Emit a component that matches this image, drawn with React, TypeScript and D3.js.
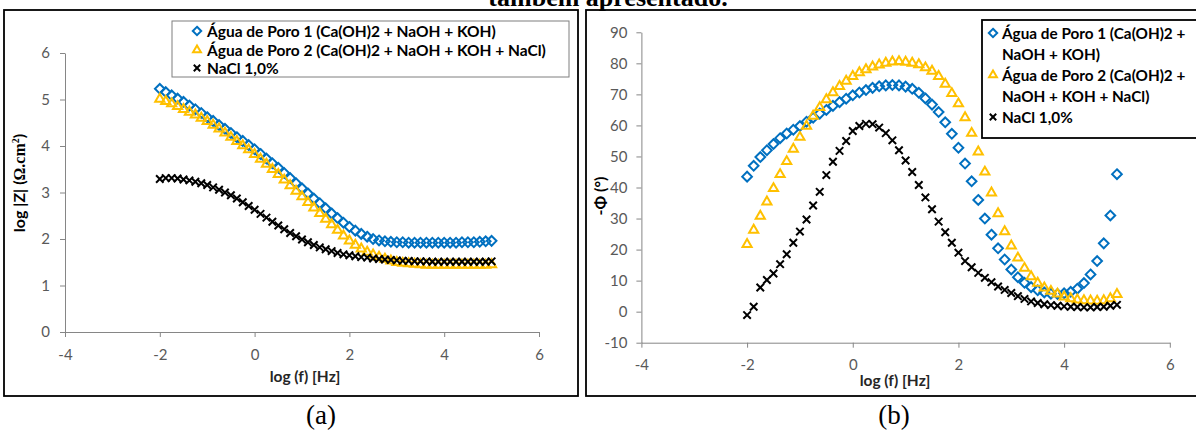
import React, { useEffect, useRef } from "react";
import * as d3 from "d3";

// log(f) of every measured point (same frequency sweep for all series)
const logF = [
  -2, -1.875, -1.75, -1.625, -1.5, -1.375, -1.25, -1.125,
  -1, -0.875, -0.75, -0.625, -0.5, -0.375, -0.25, -0.125,
  0, 0.125, 0.25, 0.375, 0.5, 0.625, 0.75, 0.875,
  1, 1.125, 1.25, 1.375, 1.5, 1.625, 1.75, 1.875,
  2, 2.125, 2.25, 2.375, 2.5, 2.625, 2.75, 2.875,
  3, 3.125, 3.25, 3.375, 3.5, 3.625, 3.75, 3.875,
  4, 4.125, 4.25, 4.375, 4.5, 4.625, 4.75, 4.875, 5,
];

// (a) log |Z|
const zPoro1 = [
  5.23, 5.16, 5.09, 5.02, 4.95, 4.87, 4.79, 4.71,
  4.62, 4.54, 4.45, 4.37, 4.28, 4.19, 4.11, 4.02,
  3.93, 3.83, 3.73, 3.63, 3.53, 3.42, 3.31, 3.2,
  3.09, 2.98, 2.87, 2.77, 2.66, 2.55, 2.45, 2.35,
  2.26, 2.18, 2.11, 2.05, 2.0, 1.97, 1.95, 1.94,
  1.93, 1.93, 1.92, 1.92, 1.92, 1.92, 1.92, 1.92,
  1.92, 1.92, 1.92, 1.93, 1.93, 1.93, 1.94, 1.95, 1.96,
];
const zPoro2 = [
  5.01, 4.96, 4.91, 4.85, 4.79, 4.73, 4.67, 4.6,
  4.53, 4.45, 4.37, 4.28, 4.19, 4.1, 4.01, 3.92,
  3.82, 3.72, 3.61, 3.5, 3.39, 3.27, 3.15, 3.03,
  2.91, 2.79, 2.67, 2.55, 2.43, 2.31, 2.19, 2.07,
  1.96, 1.87, 1.79, 1.72, 1.66, 1.61, 1.57, 1.53,
  1.5, 1.48, 1.47, 1.46, 1.45, 1.44, 1.44, 1.44,
  1.44, 1.44, 1.44, 1.44, 1.44, 1.44, 1.44, 1.44, 1.45,
];
const zNaCl = [
  3.29, 3.31, 3.31, 3.3, 3.28, 3.26, 3.23, 3.2,
  3.16, 3.11, 3.06, 3.0, 2.94, 2.87, 2.79, 2.71,
  2.63, 2.54, 2.46, 2.37, 2.29, 2.21, 2.13, 2.06,
  1.99, 1.93, 1.87, 1.82, 1.78, 1.74, 1.7, 1.67,
  1.65, 1.63, 1.61, 1.6, 1.58, 1.57, 1.56, 1.55,
  1.54, 1.53, 1.53, 1.52, 1.52, 1.52, 1.51, 1.51,
  1.51, 1.51, 1.51, 1.51, 1.51, 1.51, 1.51, 1.51, 1.52,
];

// (b) -phase angle
const phiPoro1 = [
  43.5, 47, 49.8, 52, 54, 55.9, 57.4, 58.6,
  59.8, 61.2, 62.5, 63.8, 65, 66.3, 67.5, 68.6,
  69.7, 70.6, 71.4, 72.1, 72.6, 72.9, 73, 72.9,
  72.5, 71.8, 70.5, 68.7, 66.7, 64.3, 61, 57.3,
  52.8, 47.7, 42, 36, 30, 24.8, 20.4, 16.8,
  13.6, 11.1, 9.3, 7.9, 6.9, 6.2, 5.8, 5.7,
  5.9, 6.4, 7.4, 9.2, 12, 16.3, 22, 31, 44.3,
];
const phiPoro2 = [
  21.7, 26.3, 30.8, 35.4, 39.7, 44.2, 48.4, 52.4,
  56.2, 59.8, 63, 65.8, 68.3, 70.6, 72.6, 74.3,
  75.8, 77, 78, 78.9, 79.5, 80.1, 80.5, 80.6,
  80.4, 80.1, 79.6, 78.6, 77.5, 75.8, 73.3, 70.3,
  67, 62.5, 57.5, 51.5, 45, 38.3, 31.6, 25.8,
  21.2, 17.3, 14, 11.3, 9.2, 7.7, 6.6, 5.7,
  4.8, 4.2, 3.8, 3.6, 3.5, 3.4, 3.6, 4.2, 5.6,
];
const phiNaCl = [
  -1.1, 1.6, 7.8, 10.2, 12.3, 15.3, 18.5, 22.2,
  25.8, 29.7, 34.2, 38.6, 44, 48.3, 51.8, 55,
  58.2, 59.8, 60.5, 60.4, 59.3, 57.5, 55.2, 52,
  48.7, 45, 40.8, 36.8, 33, 29, 25.6, 22.2,
  19, 16.3, 14.3, 12.5, 10.9, 9.5, 8.1, 7,
  6, 5, 4.1, 3.3, 2.8, 2.4, 2.1, 1.9,
  1.7, 1.6, 1.5, 1.4, 1.4, 1.5, 1.6, 1.9, 2.2,
];

const xTicks = [-4, -2, 0, 2, 4, 6];
const zTicks = [0, 1, 2, 3, 4, 5, 6];
const phiTicks = [-10, 0, 10, 20, 30, 40, 50, 60, 70, 80, 90];

const seriesNames = [
  "Água de Poro 1 (Ca(OH)2 + NaOH + KOH)",
  "Água de Poro 2 (Ca(OH)2 + NaOH + KOH + NaCl)",
  "NaCl 1,0%",
];
// legend (b) is narrow, so long names wrap
const seriesNamesWrapped = [
  ["Água de Poro 1 (Ca(OH)2 +", "NaOH + KOH)"],
  ["Água de Poro 2 (Ca(OH)2 +", "NaOH + KOH + NaCl)"],
  ["NaCl 1,0%"],
];

const FONT = "Lato, 'Open Sans', sans-serif";
const SERIF = "'Liberation Serif', 'DejaVu Serif', serif";
const AXIS_GREY = "#868686";
const LABEL_GREY = "#595959";

const markers = [
  { type: d3.symbolDiamond2, size: 60, color: "#0070C0" },
  { type: d3.symbolTriangle2, size: 60, color: "#FFC000" },
  { type: d3.symbolTimes, size: 38, color: "#000000" },
];

function styleAxis(g) {
  g.select(".domain").attr("stroke", AXIS_GREY);
  g.selectAll(".tick line").attr("stroke", AXIS_GREY);
  g.selectAll(".tick text")
    .attr("fill", LABEL_GREY)
    .style("font-family", FONT)
    .style("font-size", "15px");
}

function drawPanel(svg, p) {
  const x = d3.scaleLinear().domain([-4, 6]).range(p.xRange);
  const y = d3.scaleLinear().domain(p.yDomain).range(p.yRange);

  // frame around the panel
  svg
    .append("rect")
    .attr("x", p.frame[0])
    .attr("y", p.frame[1])
    .attr("width", p.frame[2])
    .attr("height", p.frame[3])
    .attr("fill", "none")
    .attr("stroke", "#000")
    .attr("stroke-width", 1.8);

  svg
    .append("g")
    .attr("transform", `translate(0,${p.yRange[0]})`)
    .call(
      d3
        .axisBottom(x)
        .tickValues(xTicks)
        .tickSize(5)
        .tickSizeOuter(0)
        .tickPadding(12)
        .tickFormat((d) => String(d))
    )
    .call(styleAxis);

  svg
    .append("g")
    .attr("transform", `translate(${p.xRange[0]},0)`)
    .call(
      d3
        .axisLeft(y)
        .tickValues(p.yTicks)
        .tickSize(5)
        .tickSizeOuter(0)
        .tickPadding(p.yPad)
        .tickFormat((d) => String(d))
    )
    .call(styleAxis);

  // markers, one group per series (later series on top)
  p.series.forEach((values, i) => {
    const m = markers[i];
    svg
      .append("g")
      .selectAll("path")
      .data(d3.zip(logF, values))
      .join("path")
      .attr("transform", (d) => `translate(${x(d[0])},${y(d[1])})`)
      .attr("d", d3.symbol(m.type, m.size))
      .attr("fill", "none")
      .attr("stroke", m.color)
      .attr("stroke-width", 2);
  });

  // x title
  svg
    .append("text")
    .attr("x", p.xTitle[0])
    .attr("y", p.xTitle[1])
    .attr("text-anchor", "middle")
    .style("font-family", FONT)
    .style("font-size", "15.5px")
    .style("font-weight", "bold")
    .attr("fill", "#262626")
    .text("log (f) [Hz]");
}

function drawLegend(svg, box, rows, markerX, textX, fontSize) {
  svg
    .append("rect")
    .attr("x", box[0])
    .attr("y", box[1])
    .attr("width", box[2])
    .attr("height", box[3])
    .attr("fill", "#fff")
    .attr("stroke", box[4])
    .attr("stroke-width", box[5]);

  rows.forEach((r) => {
    if (r.marker !== null) {
      const m = markers[r.marker];
      svg
        .append("path")
        .attr("transform", `translate(${markerX},${r.y})`)
        .attr("d", d3.symbol(m.type, m.size * 0.75)())
        .attr("fill", "none")
        .attr("stroke", m.color)
        .attr("stroke-width", 2);
    }
    svg
      .append("text")
      .attr("x", textX)
      .attr("y", r.y)
      .attr("dy", "0.36em")
      .style("font-family", FONT)
      .style("font-size", fontSize + "px")
      .style("font-weight", "bold")
      .attr("fill", "#000")
      .text(r.text);
  });
}

const App = () => {
  const svgRef = useRef(null);

  useEffect(() => {
    const svg = d3.select(svgRef.current);
    svg.selectAll("*").remove();

    svg.append("rect").attr("width", 1196).attr("height", 430).attr("fill", "#fff");

    // caption line from the page above, cut by the top edge as in the source
    svg
      .append("text")
      .attr("x", 608)
      .attr("y", 6)
      .attr("text-anchor", "middle")
      .style("font-family", SERIF)
      .style("font-size", "26px")
      .style("font-weight", "bold")
      .text("também apresentado.");

    // panel (a)
    drawPanel(svg, {
      frame: [4, 10, 574, 386],
      xRange: [65, 539],
      yDomain: [0, 6],
      yRange: [332, 53],
      yTicks: zTicks,
      yPad: 10,
      series: [zPoro1, zPoro2, zNaCl],
      xTitle: [305, 382],
    });
    const ya = svg
      .append("text")
      .attr("transform", "translate(25,183) rotate(-90)")
      .attr("text-anchor", "middle")
      .style("font-size", "16px")
      .style("font-weight", "bold")
      .attr("fill", "#000");
    ya.append("tspan").style("font-family", FONT).text("log |Z| (");
    ya.append("tspan").style("font-family", SERIF).text("Ω.cm");
    ya.append("tspan").style("font-family", SERIF).style("font-size", "10px").attr("dy", -6).text("2");
    ya.append("tspan").style("font-family", FONT).attr("dy", 6).text(")");

    drawLegend(
      svg,
      [172, 21, 397, 56, "#7f7f7f", 1],
      seriesNames.map((t, i) => ({ text: t, y: [31, 50, 68][i], marker: i })),
      197,
      207,
      15.5
    );

    // panel (b)
    drawPanel(svg, {
      frame: [586, 10, 614, 386],
      xRange: [641.4, 1169.8],
      yDomain: [-10, 90],
      yRange: [342.7, 32.3],
      yTicks: phiTicks,
      yPad: 9,
      series: [phiPoro1, phiPoro2, phiNaCl],
      xTitle: [895, 386],
    });
    svg
      .append("text")
      .attr("transform", "translate(606,196) rotate(-90)")
      .attr("text-anchor", "middle")
      .style("font-family", FONT)
      .style("font-size", "16px")
      .style("font-weight", "bold")
      .attr("fill", "#000")
      .text("-Φ (°)");

    const rowsB = [];
    const rowY = [33, 54, 75, 96, 117];
    let k = 0;
    seriesNamesWrapped.forEach((lines, i) => {
      lines.forEach((t, j) => {
        rowsB.push({ text: t, y: rowY[k], marker: j === 0 ? i : null });
        k += 1;
      });
    });
    drawLegend(svg, [982, 20, 220, 118, "#000", 1.8], rowsB, 993, 1002, 15.3);

    // sub-figure labels
    [["(a)", 321], ["(b)", 894]].forEach(([t, cx]) => {
      svg
        .append("text")
        .attr("x", cx)
        .attr("y", 424)
        .attr("text-anchor", "middle")
        .style("font-family", SERIF)
        .style("font-size", "27px")
        .text(t);
    });
  }, []);

  return (
    <svg
      ref={svgRef}
      width={1196}
      height={430}
      style={{ position: "absolute", left: 0, top: 0, display: "block" }}
    />
  );
};

export default App;
